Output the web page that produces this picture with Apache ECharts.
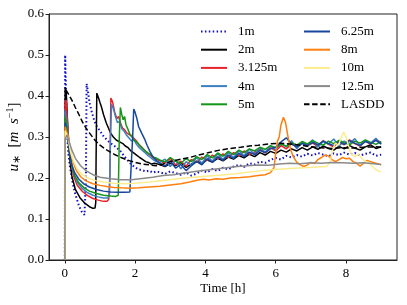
<!DOCTYPE html>
<html>
<head>
<meta charset="utf-8">
<script src="https://cdn.jsdelivr.net/npm/echarts@6/dist/echarts.min.js"></script>
<style>html,body{margin:0;padding:0;background:#fff}#c{width:407px;height:305px}</style>
</head>
<body>
<div id="c"></div>
<script>
// Tick values
const xTicks = [0, 2, 4, 6, 8];
const yTicks = [0, 0.1, 0.2, 0.3, 0.4, 0.5, 0.6];
const seriesNames = ['1m', '2m', '3.125m', '4m', '5m', '6.25m', '8m', '10m', '12.5m', 'LASDD'];

// shared time grid (h) for the late, noisy part of the 1m-6.25m runs
const tLate = [2.7,2.85,3.0,3.15,3.3,3.45,3.6,3.75,3.9,4.05,4.2,4.35,4.5,4.65,4.8,4.95,5.1,5.25,5.4,5.55,5.7,5.85,6.0,6.15,6.3,6.45,6.6,6.75,6.9,7.05,7.2,7.35,7.5,7.65,7.8,7.95,8.1,8.25,8.4,8.55,8.7,8.85,9.0];

// 1m
const early1m = [[0,0],[0.01,0.5],[0.03,0.42],[0.05,0.33],[0.1,0.26],[0.15,0.225],[0.22,0.19],[0.3,0.16],[0.4,0.133],[0.48,0.118],[0.56,0.11],[0.6,0.2],[0.62,0.43],[0.66,0.41],[0.7,0.385],[0.77,0.36],[0.84,0.34],[0.9,0.327],[1.0,0.315],[1.1,0.302],[1.2,0.293],[1.3,0.285],[1.4,0.279],[1.5,0.272],[1.6,0.264],[1.7,0.252],[1.8,0.242],[1.9,0.232],[2.0,0.226],[2.1,0.221],[2.2,0.219],[2.3,0.216],[2.4,0.218],[2.5,0.213],[2.6,0.216]];
const late1m = [0.214,0.210,0.216,0.212,0.208,0.213,0.206,0.211,0.218,0.214,0.222,0.217,0.225,0.221,0.228,0.232,0.227,0.236,0.233,0.240,0.237,0.244,0.249,0.245,0.254,0.250,0.256,0.252,0.259,0.255,0.261,0.257,0.253,0.260,0.256,0.262,0.257,0.261,0.255,0.259,0.262,0.254,0.257];

// 2m
const early2m = [[0,0],[0.01,0.42],[0.04,0.41],[0.07,0.35],[0.1,0.3],[0.15,0.24],[0.2,0.205],[0.3,0.172],[0.43,0.152],[0.55,0.14],[0.7,0.13],[0.8,0.126],[0.86,0.127],[0.88,0.14],[0.89,0.25],[0.91,0.407],[0.96,0.395],[1.0,0.384],[1.04,0.374],[1.1,0.355],[1.18,0.334],[1.24,0.322],[1.3,0.31],[1.38,0.3],[1.47,0.292],[1.56,0.288],[1.65,0.284],[1.72,0.278],[1.8,0.274],[1.88,0.266],[1.95,0.262],[2.04,0.256],[2.13,0.25],[2.22,0.245],[2.3,0.24],[2.38,0.238],[2.46,0.234],[2.55,0.236]];
const late2m = [0.233,0.228,0.236,0.230,0.238,0.226,0.234,0.241,0.236,0.244,0.239,0.248,0.242,0.251,0.246,0.255,0.249,0.258,0.252,0.262,0.256,0.265,0.260,0.268,0.263,0.271,0.266,0.274,0.268,0.276,0.270,0.278,0.272,0.268,0.277,0.271,0.279,0.273,0.268,0.276,0.281,0.272,0.276];

// 3.125m
const early3m = [[0,0],[0.01,0.385],[0.04,0.39],[0.08,0.33],[0.12,0.28],[0.18,0.235],[0.25,0.205],[0.35,0.183],[0.5,0.167],[0.65,0.157],[0.8,0.15],[0.95,0.146],[1.1,0.143],[1.2,0.143],[1.25,0.148],[1.28,0.2],[1.31,0.395],[1.36,0.385],[1.42,0.36],[1.48,0.345],[1.53,0.35],[1.58,0.335],[1.64,0.322],[1.7,0.318],[1.76,0.31],[1.83,0.306],[1.9,0.304],[1.97,0.296],[2.04,0.29],[2.1,0.282],[2.18,0.276],[2.26,0.268],[2.34,0.262],[2.42,0.256],[2.5,0.25],[2.6,0.246]];
const late3m = [0.242,0.236,0.248,0.232,0.241,0.229,0.245,0.238,0.251,0.243,0.256,0.247,0.259,0.250,0.262,0.254,0.266,0.258,0.263,0.270,0.261,0.274,0.266,0.279,0.271,0.284,0.275,0.288,0.279,0.285,0.277,0.291,0.282,0.276,0.289,0.281,0.293,0.284,0.278,0.290,0.283,0.294,0.286];

// 4m
const early4m = [[0,0],[0.01,0.365],[0.04,0.368],[0.08,0.32],[0.12,0.275],[0.18,0.24],[0.25,0.212],[0.35,0.19],[0.5,0.174],[0.65,0.164],[0.8,0.158],[0.95,0.154],[1.1,0.151],[1.22,0.151],[1.27,0.158],[1.3,0.3],[1.33,0.38],[1.38,0.37],[1.44,0.35],[1.5,0.335],[1.56,0.338],[1.62,0.32],[1.68,0.315],[1.75,0.305],[1.82,0.298],[1.9,0.29],[1.97,0.293],[2.04,0.282],[2.12,0.274],[2.2,0.268],[2.28,0.262],[2.36,0.255],[2.44,0.25],[2.52,0.244],[2.6,0.24]];
const late4m = [0.238,0.246,0.228,0.244,0.222,0.240,0.231,0.250,0.236,0.254,0.241,0.259,0.245,0.262,0.250,0.266,0.255,0.270,0.258,0.274,0.263,0.279,0.268,0.286,0.276,0.291,0.271,0.287,0.280,0.293,0.275,0.289,0.283,0.295,0.278,0.290,0.284,0.296,0.279,0.291,0.285,0.297,0.282];

// 5m
const early5m = [[0,0],[0.01,0.35],[0.04,0.352],[0.08,0.31],[0.13,0.265],[0.2,0.23],[0.28,0.206],[0.4,0.188],[0.55,0.176],[0.7,0.168],[0.9,0.162],[1.1,0.158],[1.3,0.156],[1.45,0.155],[1.52,0.158],[1.55,0.3],[1.58,0.372],[1.62,0.355],[1.66,0.342],[1.7,0.35],[1.74,0.33],[1.8,0.318],[1.86,0.305],[1.93,0.298],[2.0,0.29],[2.07,0.286],[2.14,0.278],[2.22,0.272],[2.3,0.265],[2.38,0.26],[2.46,0.256],[2.54,0.25],[2.62,0.248]];
const late5m = [0.244,0.239,0.250,0.241,0.236,0.247,0.240,0.252,0.245,0.257,0.249,0.261,0.253,0.265,0.257,0.268,0.262,0.271,0.266,0.275,0.270,0.279,0.274,0.283,0.277,0.286,0.280,0.289,0.283,0.291,0.285,0.280,0.290,0.284,0.292,0.286,0.281,0.290,0.285,0.293,0.287,0.282,0.289];

// 6.25m
const early6m = [[0,0],[0.01,0.335],[0.04,0.338],[0.08,0.3],[0.13,0.26],[0.2,0.232],[0.28,0.213],[0.4,0.197],[0.55,0.185],[0.7,0.178],[0.9,0.172],[1.1,0.168],[1.3,0.166],[1.5,0.165],[1.7,0.165],[1.85,0.166],[1.9,0.17],[1.93,0.3],[1.96,0.368],[2.0,0.36],[2.05,0.345],[2.1,0.325],[2.15,0.316],[2.2,0.307],[2.27,0.295],[2.34,0.28],[2.42,0.265],[2.5,0.252],[2.6,0.243]];
const late6m = [0.236,0.229,0.242,0.224,0.233,0.218,0.230,0.240,0.232,0.247,0.238,0.252,0.243,0.256,0.247,0.260,0.252,0.263,0.257,0.267,0.262,0.271,0.275,0.288,0.298,0.283,0.276,0.284,0.279,0.287,0.281,0.290,0.284,0.279,0.288,0.282,0.291,0.285,0.279,0.289,0.284,0.292,0.283];

// 8m
const run8m = [[0,0],[0.01,0.325],[0.05,0.328],[0.1,0.3],[0.16,0.265],[0.24,0.237],[0.33,0.218],[0.45,0.203],[0.6,0.193],[0.8,0.186],[1.0,0.182],[1.2,0.179],[1.4,0.177],[1.6,0.176],[1.85,0.175],[2.1,0.176],[2.4,0.178],[2.7,0.18],[3.0,0.183],[3.3,0.186],[3.55,0.19],[3.8,0.195],[3.95,0.197],[4.1,0.195],[4.3,0.198],[4.5,0.197],[4.7,0.2],[5.0,0.201],[5.25,0.203],[5.5,0.206],[5.7,0.208],[5.85,0.213],[5.95,0.225],[6.0,0.26],[6.05,0.29],[6.1,0.3],[6.15,0.33],[6.22,0.348],[6.28,0.335],[6.35,0.3],[6.42,0.27],[6.5,0.252],[6.6,0.238],[6.7,0.232],[6.8,0.228],[6.9,0.232],[7.0,0.238],[7.1,0.235],[7.2,0.245],[7.3,0.25],[7.4,0.256],[7.5,0.254],[7.6,0.245],[7.7,0.24],[7.8,0.245],[7.9,0.25],[8.0,0.247],[8.1,0.248],[8.2,0.24],[8.3,0.236],[8.4,0.229],[8.5,0.236],[8.6,0.243],[8.7,0.24],[8.8,0.237],[8.9,0.235],[9.0,0.232]];

// 10m
const run10m = [[0,0],[0.01,0.315],[0.05,0.318],[0.1,0.295],[0.17,0.262],[0.25,0.24],[0.35,0.222],[0.5,0.208],[0.7,0.198],[0.9,0.193],[1.1,0.19],[1.4,0.187],[1.7,0.186],[2.0,0.187],[2.4,0.19],[2.8,0.194],[3.2,0.198],[3.6,0.201],[4.0,0.204],[4.4,0.207],[4.8,0.21],[5.2,0.214],[5.6,0.218],[6.0,0.221],[6.4,0.223],[6.8,0.225],[7.2,0.227],[7.45,0.228],[7.55,0.24],[7.62,0.27],[7.7,0.285],[7.78,0.28],[7.85,0.295],[7.93,0.312],[8.0,0.3],[8.08,0.275],[8.15,0.258],[8.25,0.252],[8.35,0.258],[8.45,0.248],[8.55,0.24],[8.65,0.238],[8.75,0.228],[8.85,0.22],[8.95,0.216],[9.0,0.215]];

// 12.5m
const run12m = [[0,0],[0.01,0.295],[0.06,0.305],[0.12,0.29],[0.2,0.268],[0.3,0.248],[0.45,0.23],[0.6,0.218],[0.8,0.208],[1.0,0.202],[1.3,0.198],[1.6,0.196],[1.9,0.196],[2.2,0.199],[2.5,0.202],[2.8,0.206],[3.1,0.208],[3.4,0.212],[3.7,0.216],[4.0,0.219],[4.3,0.222],[4.6,0.225],[4.9,0.228],[5.2,0.23],[5.5,0.232],[5.8,0.231],[6.1,0.234],[6.4,0.236],[6.7,0.235],[7.0,0.237],[7.3,0.236],[7.6,0.238],[7.9,0.237],[8.2,0.236],[8.5,0.237],[8.8,0.235],[9.0,0.233]];

// LASDD
const runLASDD = [[0.03,0.415],[0.1,0.405],[0.2,0.39],[0.3,0.372],[0.4,0.355],[0.5,0.337],[0.6,0.322],[0.7,0.31],[0.85,0.293],[1.0,0.28],[1.2,0.268],[1.4,0.258],[1.6,0.25],[1.8,0.243],[2.0,0.238],[2.2,0.234],[2.4,0.232],[2.6,0.23],[2.8,0.234],[3.0,0.24],[3.3,0.246],[3.55,0.25],[3.8,0.256],[4.1,0.262],[4.4,0.268],[4.7,0.272],[5.0,0.275],[5.25,0.278],[5.5,0.28],[5.8,0.283],[6.1,0.285],[6.4,0.283],[6.7,0.28],[7.0,0.276],[7.3,0.274],[7.6,0.272],[7.9,0.274],[8.2,0.273],[8.5,0.275],[8.85,0.276],[9.0,0.275]];

function join(early, late) {
  return early.concat(tLate.map((t, i) => [t, late[i]]));
}

const seriesData = [
  join(early1m, late1m), join(early2m, late2m), join(early3m, late3m),
  join(early4m, late4m), join(early5m, late5m), join(early6m, late6m),
  run8m, run10m, run12m, runLASDD
];
const colors = ['#1010c8', '#000000', '#e8222a', '#3a80c2', '#14961a', '#17479c', '#ff7f0e', '#fcec8e', '#8a8a8a', '#000000'];
const lineTypes = [[1.5, 2.4], 'solid', 'solid', 'solid', 'solid', 'solid', 'solid', 'solid', 'solid', [5.5, 2.6]];

const FONT = 'Liberation Serif';
const chart = echarts.init(document.getElementById('c'), null, {renderer: 'canvas'});

const legendBase = {
  orient: 'vertical', itemWidth: 26, itemHeight: 14, itemGap: 4.2,
  itemStyle: {opacity: 0},
  textStyle: {fontFamily: FONT, fontSize: 13, color: '#000', lineHeight: 14, padding: [0, 0, 0, 6]},
  top: 24.5, padding: 0
};

chart.setOption({
  animation: false,
  backgroundColor: '#fff',
  grid: {left: 49, top: 14, right: 10, bottom: 45, containLabel: false, outerBoundsMode: 'none',
    show: true, borderColor: '#222', borderWidth: 1, backgroundColor: 'transparent'},
  legend: [
    Object.assign({}, legendBase, {left: 200, data: seriesNames.slice(0, 5)}),
    Object.assign({}, legendBase, {left: 303, data: seriesNames.slice(5)})
  ],
  xAxis: {
    type: 'value', min: -0.45, max: 9.45,
    name: 'Time [h]', nameLocation: 'middle', nameGap: 22, nameMoveOverlap: false,
    nameTextStyle: {fontFamily: FONT, fontSize: 13, color: '#000'},
    axisLine: {show: true, onZero: false, lineStyle: {color: '#222', width: 1}},
    axisTick: {show: true, inside: false, length: 3.5, customValues: xTicks, lineStyle: {color: '#222'}},
    axisLabel: {customValues: xTicks, margin: 7, fontFamily: FONT, fontSize: 13, color: '#000'},
    splitLine: {show: false}
  },
  yAxis: {
    type: 'value', min: 0, max: 0.6, interval: 0.1,
    name: '{i|u}{s|∗}  [{i|m}  {i|s}{sup|−1}]', nameLocation: 'middle', nameGap: 26, nameRotate: 90,
    nameMoveOverlap: false,
    nameTextStyle: {fontFamily: FONT, fontSize: 15, color: '#000',
      rich: {
        i: {fontFamily: FONT, fontSize: 15, fontStyle: 'italic', color: '#000'},
        s: {fontFamily: FONT, fontSize: 11, color: '#000', verticalAlign: 'bottom', padding: [7, 0, 0, 0]},
        sup: {fontFamily: FONT, fontSize: 10, color: '#000', verticalAlign: 'top', padding: [0, 0, 7, 0]}
      }},
    axisLine: {show: true, onZero: false, lineStyle: {color: '#222', width: 1}},
    axisTick: {show: true, inside: false, length: 3.5, lineStyle: {color: '#222'}},
    axisLabel: {margin: 5, fontFamily: FONT, fontSize: 13, color: '#000', formatter: v => v.toFixed(1)},
    splitLine: {show: false}
  },
  series: seriesNames.map((n, i) => ({
    name: n, type: 'line', data: seriesData[i], showSymbol: false, symbol: 'none',
    color: colors[i],
    lineStyle: {color: colors[i], width: i === 0 ? 2 : 1.5, type: lineTypes[i], cap: 'butt'},
    emphasis: {disabled: true}, silent: true
  }))
});
</script>
</body>
</html>
